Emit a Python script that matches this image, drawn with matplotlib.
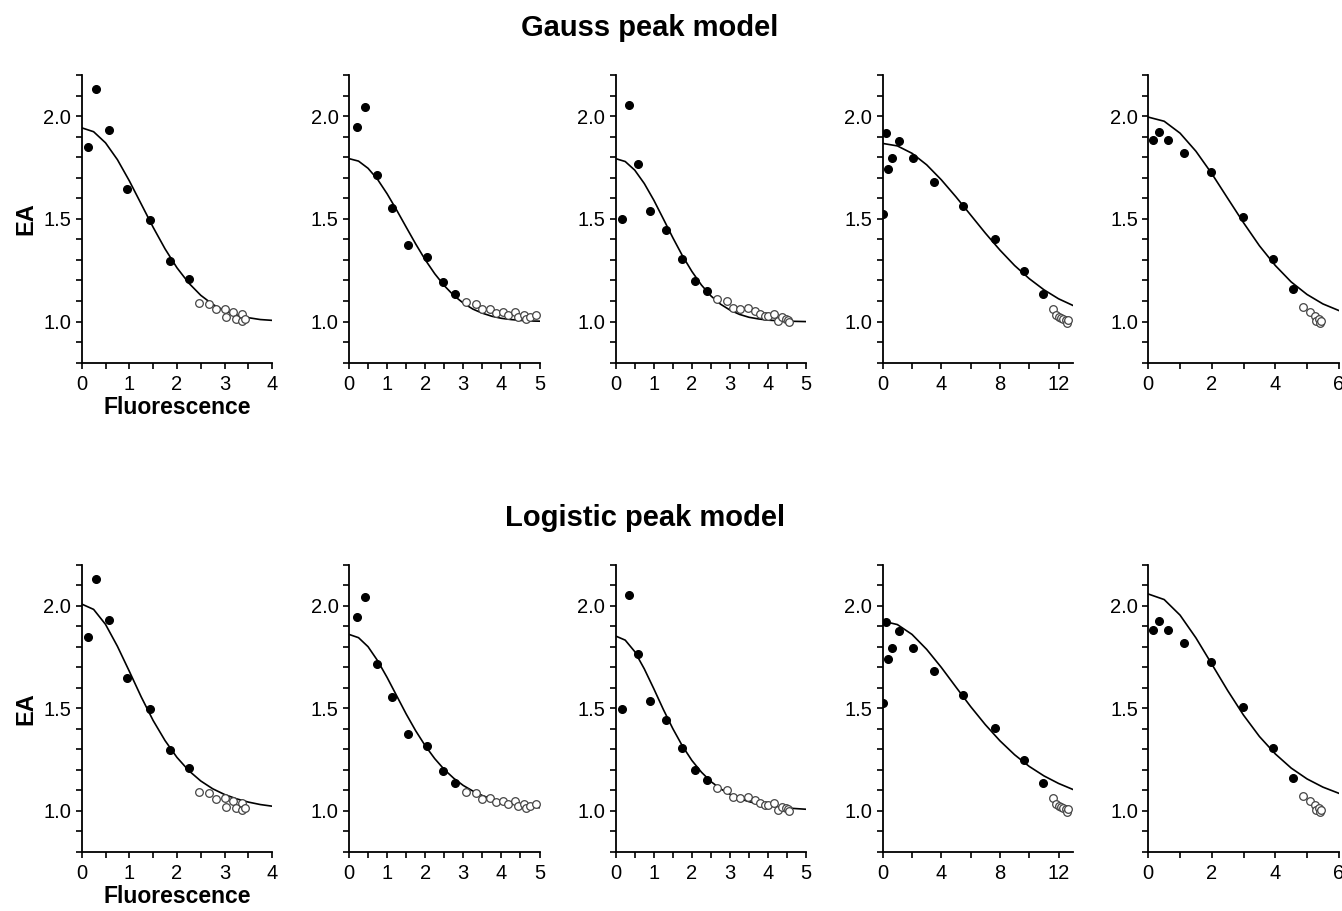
import matplotlib
matplotlib.use("Agg")
import matplotlib.pyplot as plt
from matplotlib.ticker import MultipleLocator

plt.rcParams['font.family'] = ['Liberation Sans', 'DejaVu Sans']

# measured data (filled = fitted points, open = excluded points)
p1_fx = [0.14, 0.30, 0.57, 0.95, 1.43, 1.86, 2.25]
p1_fy = [1.849, 2.13, 1.932, 1.647, 1.494, 1.294, 1.208]
p1_ox = [2.46, 2.67, 2.83, 3.00, 3.04, 3.18, 3.24, 3.36, 3.37, 3.42]
p1_oy = [1.091, 1.086, 1.059, 1.060, 1.020, 1.049, 1.015, 1.037, 1.002, 1.011]

p2_fx = [0.20, 0.42, 0.73, 1.13, 1.55, 2.05, 2.46, 2.79]
p2_fy = [1.946, 2.044, 1.715, 1.554, 1.374, 1.315, 1.195, 1.133]
p2_ox = [3.06, 3.33, 3.50, 3.70, 3.86, 4.04, 4.17, 4.37, 4.44, 4.59, 4.65, 4.75, 4.91]
p2_oy = [1.093, 1.088, 1.059, 1.060, 1.041, 1.046, 1.034, 1.047, 1.021, 1.031, 1.015, 1.023, 1.031]

p3_fx = [0.16, 0.34, 0.59, 0.91, 1.33, 1.74, 2.07, 2.39]
p3_fy = [1.498, 2.052, 1.766, 1.537, 1.444, 1.304, 1.197, 1.151]
p3_ox = [2.66, 2.91, 3.08, 3.27, 3.48, 3.66, 3.80, 3.91, 4.01, 4.15, 4.27, 4.36, 4.46, 4.53, 4.56]
p3_oy = [1.109, 1.102, 1.067, 1.060, 1.067, 1.052, 1.037, 1.029, 1.026, 1.037, 1.005, 1.020, 1.011, 1.008, 0.998]

p4_fx = [0.05, 0.20, 0.36, 0.61, 1.14, 2.07, 3.50, 5.48, 7.68, 9.61, 10.93]
p4_fy = [1.524, 1.919, 1.741, 1.795, 1.878, 1.795, 1.681, 1.563, 1.403, 1.247, 1.135]
p4_ox = [11.61, 11.84, 12.00, 12.16, 12.32, 12.50, 12.57, 12.66]
p4_oy = [1.062, 1.034, 1.021, 1.016, 1.013, 1.007, 0.993, 1.008]

p5_fx = [0.16, 0.33, 0.62, 1.14, 1.98, 2.99, 3.92, 4.55]
p5_fy = [1.883, 1.925, 1.883, 1.820, 1.727, 1.507, 1.306, 1.161]
p5_ox = [4.87, 5.10, 5.26, 5.29, 5.39, 5.42, 5.45]
p5_oy = [1.070, 1.047, 1.028, 1.005, 1.015, 0.993, 1.005]

# fitted curves
c1_x = [0, 0.25, 0.5, 0.75, 1.0, 1.25, 1.5, 1.75, 2.0, 2.25, 2.5, 2.75, 3.0, 3.25, 3.5, 3.75, 4.0]
c1_gauss = [1.943, 1.924, 1.870, 1.788, 1.685, 1.572, 1.459, 1.354, 1.262, 1.187, 1.128, 1.084,
            1.053, 1.032, 1.019, 1.010, 1.006]
c1_logis = [2.008, 1.982, 1.909, 1.802, 1.680, 1.555, 1.440, 1.342, 1.260, 1.195, 1.145, 1.107,
            1.079, 1.058, 1.042, 1.030, 1.022]

c2_x = [0, 0.25, 0.5, 0.75, 1.0, 1.25, 1.5, 1.75, 2.0, 2.25, 2.5, 2.75, 3.0, 3.25, 3.5, 3.75,
        4.0, 4.25, 4.5, 4.75, 5.0]
c2_gauss = [1.793, 1.781, 1.746, 1.692, 1.622, 1.543, 1.460, 1.378, 1.301, 1.233, 1.175, 1.127,
            1.090, 1.061, 1.041, 1.026, 1.016, 1.010, 1.006, 1.003, 1.002]
c2_logis = [1.860, 1.844, 1.800, 1.732, 1.650, 1.561, 1.472, 1.390, 1.317, 1.254, 1.201, 1.158,
            1.123, 1.096, 1.074, 1.057, 1.044, 1.034, 1.026, 1.020, 1.015]

c3_x = [0, 0.25, 0.5, 0.75, 1.0, 1.25, 1.5, 1.75, 2.0, 2.25, 2.5, 2.75, 3.0, 3.25, 3.5, 3.75,
        4.0, 4.5, 5.0]
c3_gauss = [1.793, 1.779, 1.737, 1.672, 1.591, 1.500, 1.408, 1.321, 1.244, 1.178, 1.125, 1.085,
            1.056, 1.035, 1.021, 1.013, 1.007, 1.002, 1.000]
c3_logis = [1.852, 1.832, 1.776, 1.692, 1.595, 1.494, 1.400, 1.316, 1.245, 1.188, 1.142, 1.107,
            1.080, 1.059, 1.044, 1.033, 1.024, 1.013, 1.007]

c4_x = [0, 1, 2, 3, 4, 5, 6, 7, 8, 9, 10, 11, 12, 13]
c4_gauss = [1.867, 1.855, 1.819, 1.763, 1.690, 1.607, 1.519, 1.431, 1.348, 1.273, 1.209, 1.155,
            1.111, 1.078]
c4_logis = [1.925, 1.908, 1.860, 1.787, 1.699, 1.603, 1.508, 1.420, 1.341, 1.273, 1.216, 1.170,
            1.133, 1.103]

c5_x = [0, 0.5, 1.0, 1.5, 2.0, 2.5, 3.0, 3.5, 4.0, 4.5, 5.0, 5.5, 6.0]
c5_gauss = [1.995, 1.975, 1.917, 1.829, 1.720, 1.600, 1.481, 1.369, 1.273, 1.193, 1.132, 1.086,
            1.054]
c5_logis = [2.057, 2.030, 1.954, 1.843, 1.715, 1.586, 1.466, 1.362, 1.277, 1.208, 1.155, 1.115,
            1.085]

xmax = [4, 5, 5, 13, 6]
xmajor = [1, 1, 1, 4, 2]
xminor = [0.5, 0.5, 0.5, 2, 1]

panels = [
    (p1_fx, p1_fy, p1_ox, p1_oy, c1_x, c1_gauss, c1_logis),
    (p2_fx, p2_fy, p2_ox, p2_oy, c2_x, c2_gauss, c2_logis),
    (p3_fx, p3_fy, p3_ox, p3_oy, c3_x, c3_gauss, c3_logis),
    (p4_fx, p4_fy, p4_ox, p4_oy, c4_x, c4_gauss, c4_logis),
    (p5_fx, p5_fy, p5_ox, p5_oy, c5_x, c5_gauss, c5_logis),
]

W, H = 1342, 911
fig = plt.figure(figsize=(W / 100, H / 100), dpi=100)

lefts = [81.7, 349.0, 615.7, 882.7, 1148.3]
width = 190.5
rows = [(75.0, 362.7), (564.7, 851.7)]   # (top, bottom) in pixels

for r, (top, bot) in enumerate(rows):
    for i, (fx, fy, ox, oy, cx, cg, cl) in enumerate(panels):
        ax = fig.add_axes([lefts[i] / W, 1 - bot / H, width / W, (bot - top) / H])
        curve = cg if r == 0 else cl
        ax.plot(cx, curve, color='black', lw=1.2, zorder=2, solid_joinstyle='round')
        ax.plot(ox, oy, 'o', ms=5.5, mfc='white', mec='#444444', mew=0.9, zorder=3)
        ax.plot(fx, fy, 'o', ms=5.5, color='black', zorder=4)

        ax.set_xlim(0, xmax[i])
        ax.set_ylim(0.8, 2.2)
        ax.xaxis.set_major_locator(MultipleLocator(xmajor[i]))
        ax.xaxis.set_minor_locator(MultipleLocator(xminor[i]))
        ax.set_yticks([1.0, 1.5, 2.0])
        ax.set_yticklabels(['1.0', '1.5', '2.0'])
        ax.yaxis.set_minor_locator(MultipleLocator(0.1))

        for s in ['top', 'right']:
            ax.spines[s].set_visible(False)
        for s in ['left', 'bottom']:
            ax.spines[s].set_linewidth(1.3)
        ax.tick_params(which='both', direction='out', width=1.2, labelsize=14.5)
        ax.tick_params(which='major', length=4.5)
        ax.tick_params(axis='x', which='major', pad=4)
        ax.tick_params(axis='y', which='major', pad=3)
        ax.tick_params(which='minor', length=4)
        ax.patch.set_alpha(0)

        if i == 0:
            ax.set_ylabel('EA', fontsize=17, fontweight='bold', labelpad=4)
            ax.set_xlabel('Fluorescence', fontsize=16.5, fontweight='bold', labelpad=2)

fig.text(650 / W, 1 - 28 / H, 'Gauss peak model', ha='center', va='center',
         fontsize=21, fontweight='bold')
fig.text(645 / W, 1 - 518 / H, 'Logistic peak model', ha='center', va='center',
         fontsize=21, fontweight='bold')

fig.savefig('out.png', dpi=100)
